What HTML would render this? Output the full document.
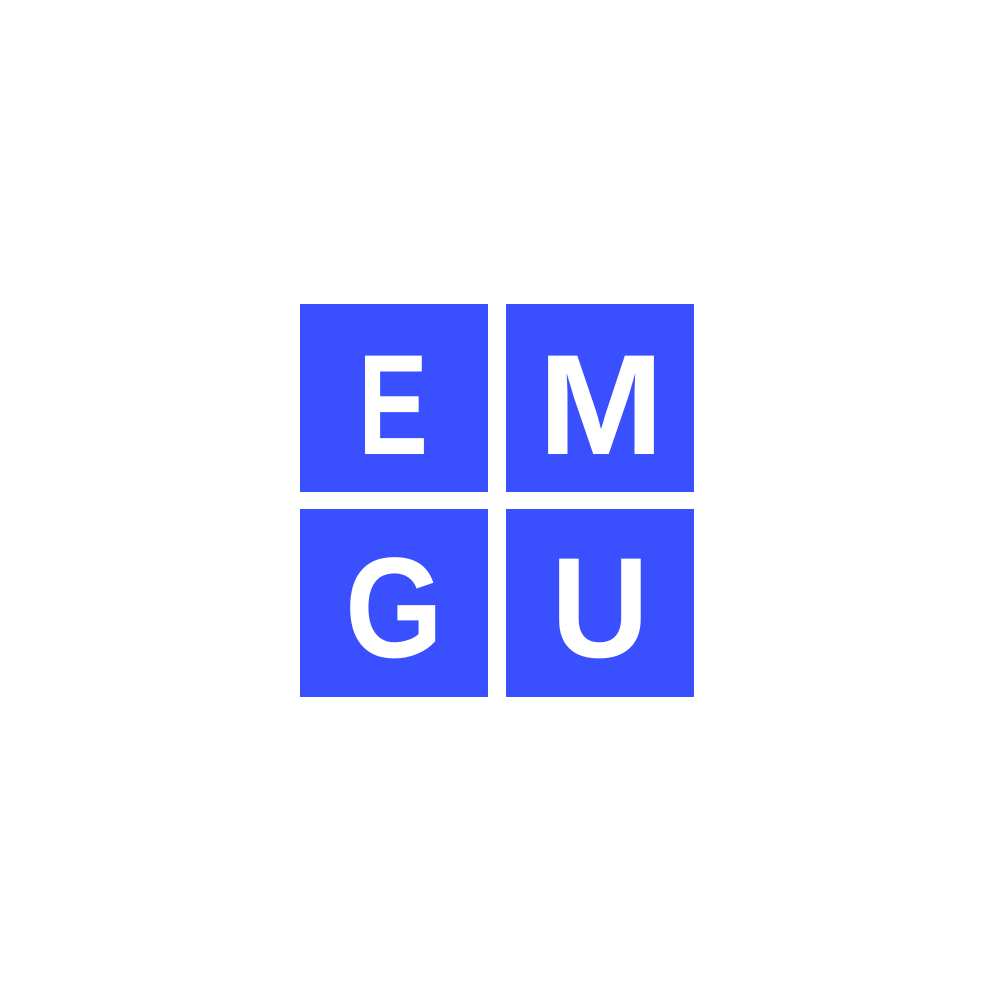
<!DOCTYPE html>
<html><head><meta charset="utf-8"><style>
html,body{margin:0;padding:0;background:#fff;width:1000px;height:1000px;overflow:hidden}
</style></head><body>
<svg width="1000" height="1000" viewBox="0 0 1000 1000">
<g font-family="Liberation Sans, sans-serif" font-weight="bold" font-size="143" fill="#fff">
<rect x="300" y="304" width="188" height="188" fill="#3a50ff"/>
<rect x="506" y="304" width="188" height="188" fill="#3a50ff"/>
<rect x="300" y="509" width="188" height="188" fill="#3a50ff"/>
<rect x="506" y="509" width="188" height="188" fill="#3a50ff"/>
<text x="358" y="454" textLength="70" lengthAdjust="spacingAndGlyphs">E</text>
<text x="538" y="454" textLength="126" lengthAdjust="spacingAndGlyphs">M</text>
<text x="345" y="657" textLength="98" lengthAdjust="spacingAndGlyphs">G</text>
<text x="551" y="657" textLength="98" lengthAdjust="spacingAndGlyphs">U</text>
</g>
</svg>
</body></html>
